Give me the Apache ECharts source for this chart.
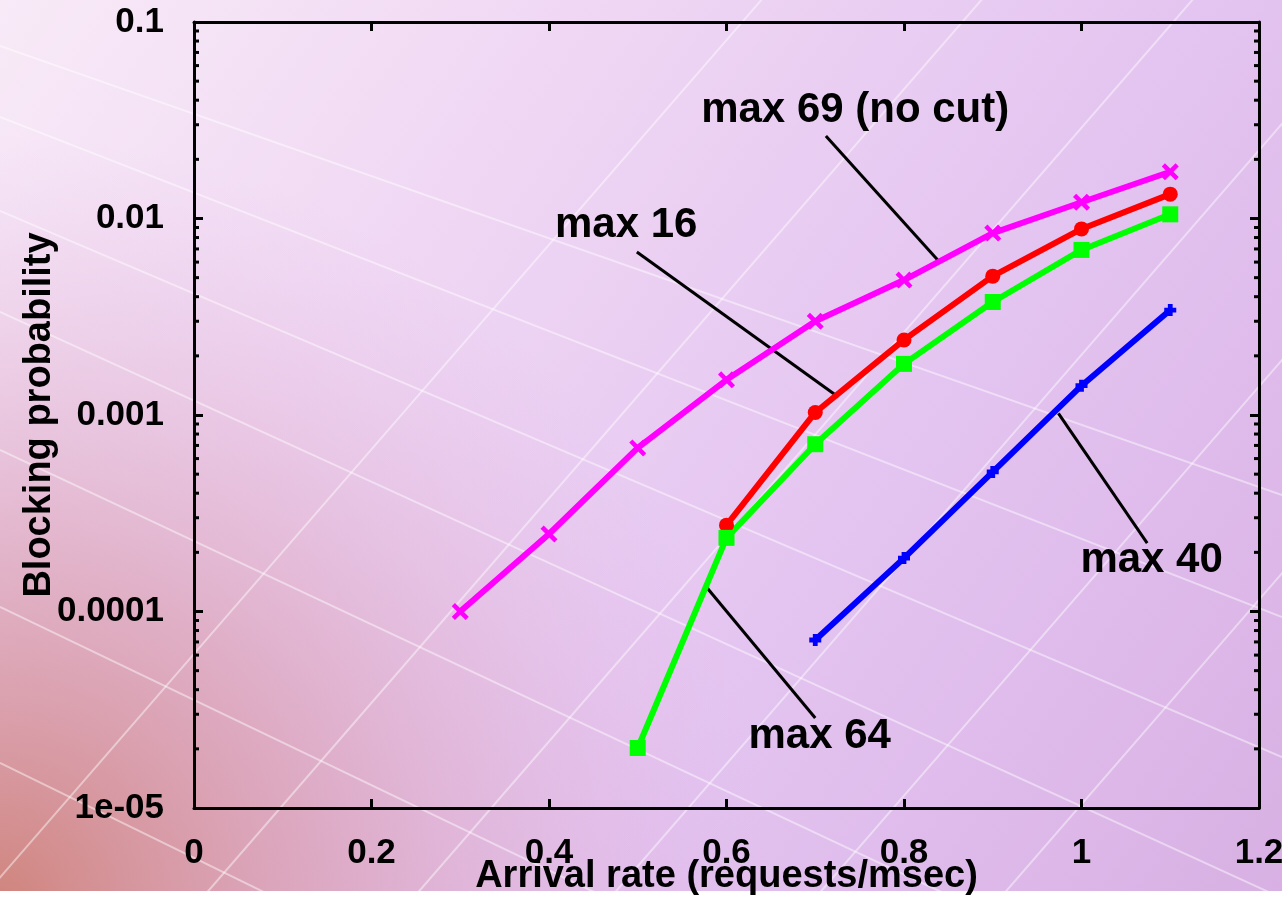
<!DOCTYPE html>
<html>
<head>
<meta charset="utf-8">
<style>
  html, body { margin: 0; padding: 0; background: #ffffff; overflow: hidden; }
  #chart { width: 1282px; height: 904px; }
</style>
<script src="https://cdn.jsdelivr.net/npm/echarts@6/dist/echarts.min.js"></script>
</head>
<body>
<div id="chart"></div>
<script>
// ---------------- data ----------------
const xTicks = [0, 0.2, 0.4, 0.6, 0.8, 1, 1.2];
const yTickLabels = { '-5': '1e-05', '-4': '0.0001', '-3': '0.001', '-2': '0.01', '-1': '0.1' };

const rates69 = [0.3, 0.4, 0.5, 0.6, 0.7, 0.8, 0.9, 1.0, 1.1];
const max69   = [1.0e-4, 2.48e-4, 6.8e-4, 1.51e-3, 3.0e-3, 4.86e-3, 8.43e-3, 0.0121, 0.0173];

const rates16 = [0.6, 0.7, 0.8, 0.9, 1.0, 1.1];
const max16   = [2.75e-4, 1.03e-3, 2.41e-3, 5.09e-3, 8.85e-3, 0.0133];

const rates64 = [0.5, 0.6, 0.7, 0.8, 0.9, 1.0, 1.1];
const max64   = [2.02e-5, 2.37e-4, 7.1e-4, 1.82e-3, 3.76e-3, 6.92e-3, 0.0105];

const rates40 = [0.7, 0.8, 0.9, 1.0, 1.1];
const max40   = [7.16e-5, 1.87e-4, 5.13e-4, 1.41e-3, 3.42e-3];

const annoText  = ['max 69 (no cut)', 'max 16', 'max 64', 'max 40'];
const annoPos   = [[0.745, 0.0356], [0.487, 0.00927], [0.705, 2.30e-5], [1.079, 1.83e-4]];
const annoFrom  = [[0.712, 0.0263], [0.499, 0.00676], [0.578, 1.32e-4], [0.974, 1.02e-3]];
const annoTo    = [[0.838, 0.00615], [0.726, 0.001236], [0.700, 2.87e-5], [1.074, 2.23e-4]];

const minorMultipliers = [2, 3, 4, 5, 6, 7, 8, 9];
const decades = [1e-5, 1e-4, 1e-3, 1e-2];

// decorative perspective lines of the slide background (pixel space)
const bgShallow = [[0,46,1282,495],[0,117,1282,617],[0,211,1282,757],[0,312,1282,898],[0,450,1282,1052],[0,607,1282,1222],[0,763,1282,1390]];
const bgSteep = [[-23,904,770,-10],[197,904,990,-10],[408,904,1201,-10],[605,904,1398,-10],[810,904,1603,-10],[995,904,1788,-10]];

// ---------------- build ----------------
const font = "'Liberation Sans', Arial, Helvetica, sans-serif";
const zip = (xs, ys) => xs.map((x, i) => [x, ys[i]]);
const minorVals = [];
decades.forEach(d => minorMultipliers.forEach(m => minorVals.push([0, d * m])));

const Xsym = 'path://M3,0 L8,5 L13,0 L16,3 L11,8 L16,13 L13,16 L8,11 L3,16 L0,13 L5,8 L0,3 Z';
const PlusSym = 'path://M3,0 L7,0 L7,3 L10,3 L10,7 L7,7 L7,10 L3,10 L3,7 L0,7 L0,3 L3,3 Z';

const bgElements = [
  { type: 'rect', z: -100, silent: true, shape: { x: 0, y: 0, width: 1282, height: 904 },
    style: { fill: { type: 'linear', x: 0, y: 0, x2: 1, y2: 1, colorStops: [
      { offset: 0, color: '#f8eaf7' }, { offset: 0.3, color: '#f0d8f4' },
      { offset: 0.65, color: '#e3c3f0' }, { offset: 1, color: '#d8b0e3' } ] } } },
  { type: 'rect', z: -99, silent: true, shape: { x: 0, y: 0, width: 1282, height: 904 },
    style: { fill: { type: 'radial', x: 0, y: 1, r: 0.85, colorStops: [
      { offset: 0, color: 'rgba(206,128,118,0.95)' }, { offset: 0.45, color: 'rgba(212,145,165,0.55)' },
      { offset: 1, color: 'rgba(222,175,225,0)' } ] } } }
];
bgShallow.concat(bgSteep).forEach(l => bgElements.push({
  type: 'line', z: -98, silent: true,
  shape: { x1: l[0], y1: l[1], x2: l[2], y2: l[3] },
  style: { stroke: 'rgba(255,255,255,0.45)', lineWidth: 2 }
}));
bgElements.push({ type: 'rect', z: -90, silent: true, shape: { x: 0, y: 891, width: 1282, height: 13 }, style: { fill: '#ffffff' } });

const labelStyle = { color: '#000', fontFamily: font, fontWeight: 'bold', fontSize: 35 };

const chart = echarts.init(document.getElementById('chart'), null, { renderer: 'canvas', width: 1282, height: 904 });
chart.setOption({
  animation: false,
  backgroundColor: 'transparent',
  graphic: { elements: bgElements },
  grid: { left: 194, right: 23, top: 22, bottom: 96, containLabel: false, outerBoundsMode: 'none' },
  xAxis: [
    { type: 'value', min: 0, max: 1.2, interval: 0.2, position: 'bottom',
      axisLine: { onZero: false, lineStyle: { color: '#000', width: 3 } },
      axisTick: { inside: true, length: 9, lineStyle: { color: '#000', width: 3 } },
      axisLabel: Object.assign({ margin: 28, formatter: v => String(+v.toFixed(1)) }, labelStyle),
      splitLine: { show: false },
      name: 'Arrival rate (requests/msec)', nameLocation: 'middle', nameGap: 50, nameMoveOverlap: false,
      nameTextStyle: { color: '#000', fontFamily: font, fontWeight: 'bold', fontSize: 38 } },
    { type: 'value', min: 0, max: 1.2, interval: 0.2, position: 'top',
      axisLine: { onZero: false, lineStyle: { color: '#000', width: 3 } },
      axisTick: { inside: true, length: 9, lineStyle: { color: '#000', width: 3 } },
      axisLabel: { show: false }, splitLine: { show: false } }
  ],
  yAxis: [
    { type: 'log', logBase: 10, min: 1e-5, max: 0.1, position: 'left',
      axisLine: { onZero: false, lineStyle: { color: '#000', width: 3 } },
      axisTick: { inside: true, length: 9, lineStyle: { color: '#000', width: 3 } },
      axisLabel: Object.assign({ margin: 30, padding: [12, 0, 0, 0],
        formatter: v => yTickLabels[String(Math.round(Math.log10(v)))] || '' }, labelStyle),
      splitLine: { show: false },
      name: 'Blocking probability', nameLocation: 'middle', nameGap: 135, nameMoveOverlap: false,
      nameTextStyle: { color: '#000', fontFamily: font, fontWeight: 'bold', fontSize: 38 } },
    { type: 'log', logBase: 10, min: 1e-5, max: 0.1, position: 'right',
      axisLine: { onZero: false, lineStyle: { color: '#000', width: 3 } },
      axisTick: { inside: true, length: 9, lineStyle: { color: '#000', width: 3 } },
      axisLabel: { show: false }, splitLine: { show: false } }
  ],
  series: [
    { type: 'custom', name: 'minorTicks', silent: true, z: 5, clip: false,
      data: minorVals,
      renderItem: (params, api) => {
        const v = api.value(1);
        const pL = api.coord([0, v]);
        const pR = api.coord([1.2, v]);
        return { type: 'group', children: [
          { type: 'line', shape: { x1: pL[0], y1: pL[1], x2: pL[0] + 5, y2: pL[1] }, style: { stroke: '#000', lineWidth: 3 } },
          { type: 'line', shape: { x1: pR[0], y1: pR[1], x2: pR[0] - 5, y2: pR[1] }, style: { stroke: '#000', lineWidth: 3 } }
        ] };
      } },
    { type: 'lines', coordinateSystem: 'cartesian2d', silent: true, z: 1,
      data: annoFrom.map((f, i) => ({ coords: [f, annoTo[i]] })),
      lineStyle: { color: '#000', width: 3, opacity: 1 }, symbol: 'none' },
    { type: 'custom', name: 'annotations', silent: true, z: 6, clip: false,
      data: annoPos.map((p, i) => [p[0], p[1], i]),
      renderItem: (params, api) => {
        const pt = api.coord([api.value(0), api.value(1)]);
        return { type: 'text', x: pt[0], y: pt[1],
          style: { text: annoText[api.value(2)], fill: '#000', align: 'center', verticalAlign: 'middle',
            font: 'bold 42px ' + font } };
      } },
    { type: 'line', name: 'max 69 (no cut)', data: zip(rates69, max69), color: '#ff00ff',
      lineStyle: { width: 6, color: '#ff00ff' }, symbol: Xsym, symbolSize: 17, showAllSymbol: true,
      itemStyle: { color: '#ff00ff' } },
    { type: 'line', name: 'max 16', data: zip(rates16, max16), color: '#ff0000',
      lineStyle: { width: 6, color: '#ff0000' }, symbol: 'circle', symbolSize: 15, showAllSymbol: true,
      itemStyle: { color: '#ff0000' } },
    { type: 'line', name: 'max 64', data: zip(rates64, max64), color: '#00ff00',
      lineStyle: { width: 6, color: '#00ff00' }, symbol: 'rect', symbolSize: 16, showAllSymbol: true,
      itemStyle: { color: '#00ff00' } },
    { type: 'line', name: 'max 40', data: zip(rates40, max40), color: '#0000ff',
      lineStyle: { width: 6, color: '#0000ff' }, symbol: PlusSym, symbolSize: 12, showAllSymbol: true,
      itemStyle: { color: '#0000ff' } }
  ]
});
</script>
</body>
</html>
